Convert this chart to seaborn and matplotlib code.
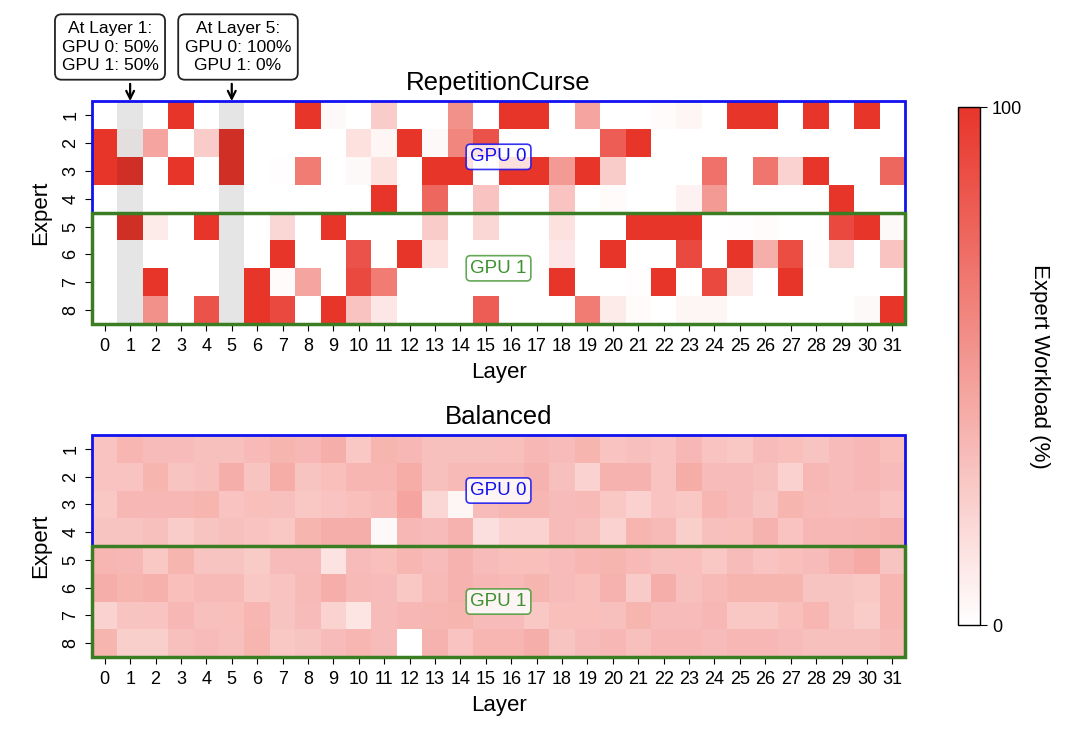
import numpy as np
import pandas as pd
import matplotlib
matplotlib.use("Agg")
import matplotlib.pyplot as plt
import seaborn as sns
from matplotlib.colors import LinearSegmentedColormap
from matplotlib.patches import Rectangle

plt.rcParams["font.family"] = ["Liberation Sans", "DejaVu Sans"]

# --- data: expert workload (%) per layer ---
layers = list(range(32))
experts = [1, 2, 3, 4, 5, 6, 7, 8]

# RepetitionCurse
rep_e1 = [0, 0, 0, 100, 0, 0, 0, 0, 100, 3, 0, 25, 0, 0, 55, 0, 100, 100, 0, 45, 0, 0, 2, 5, 0, 100, 100, 0, 100, 0, 100, 0]
rep_e2 = [100, 3, 45, 0, 25, 100, 0, 0, 0, 0, 15, 5, 100, 3, 60, 85, 0, 0, 0, 0, 80, 100, 0, 0, 0, 0, 0, 0, 0, 0, 0, 0]
rep_e3 = [100, 100, 0, 100, 0, 100, 0, 1, 65, 0, 3, 15, 0, 100, 100, 0, 100, 100, 50, 100, 25, 0, 0, 0, 70, 0, 68, 22, 100, 0, 0, 75]
rep_e4 = [0, 0, 0, 0, 0, 0, 0, 0, 0, 0, 0, 100, 0, 75, 0, 30, 0, 0, 30, 0, 2, 0, 0, 7, 50, 0, 0, 0, 0, 100, 0, 0]
rep_e5 = [0, 100, 10, 0, 100, 0, 0, 20, 0, 100, 0, 0, 0, 25, 0, 20, 0, 0, 15, 0, 0, 100, 100, 100, 0, 1, 2, 0, 0, 90, 100, 3]
rep_e6 = [0, 0, 0, 0, 0, 0, 0, 100, 0, 0, 85, 0, 100, 15, 0, 0, 0, 0, 12, 0, 100, 0, 0, 90, 0, 100, 40, 88, 1, 20, 0, 30]
rep_e7 = [0, 0, 100, 0, 0, 0, 100, 2, 45, 0, 90, 65, 0, 0, 0, 0, 0, 0, 100, 0, 0, 1, 100, 0, 90, 10, 0, 100, 0, 0, 0, 0]
rep_e8 = [0, 0, 55, 0, 85, 0, 100, 90, 0, 100, 30, 12, 0, 0, 0, 80, 0, 0, 0, 65, 10, 2, 0, 5, 5, 0, 0, 0, 0, 0, 3, 100]

# Balanced
bal_e1 = [30, 36, 33, 33, 31, 31, 34, 37, 35, 40, 27, 37, 35, 31, 31, 31, 32, 35, 33, 37, 30, 31, 30, 35, 30, 28, 33, 32, 29, 33, 35, 32]
bal_e2 = [30, 30, 37, 29, 31, 40, 29, 41, 29, 32, 36, 36, 41, 31, 34, 34, 34, 38, 31, 22, 38, 38, 30, 41, 33, 33, 31, 23, 35, 33, 35, 33]
bal_e3 = [27, 35, 35, 35, 37, 30, 32, 31, 28, 30, 32, 34, 45, 20, 5, 33, 36, 36, 33, 34, 28, 23, 30, 28, 36, 33, 29, 37, 34, 33, 33, 30]
bal_e4 = [29, 29, 31, 25, 29, 31, 30, 27, 37, 40, 40, 3, 35, 33, 38, 16, 22, 22, 33, 31, 22, 37, 34, 24, 31, 32, 38, 30, 35, 35, 36, 38]
bal_e5 = [36, 35, 28, 37, 29, 29, 26, 33, 33, 14, 33, 32, 36, 33, 38, 33, 32, 32, 33, 36, 37, 34, 31, 32, 28, 33, 30, 32, 33, 38, 42, 29]
bal_e6 = [40, 37, 39, 32, 34, 34, 28, 30, 34, 40, 34, 33, 28, 34, 38, 35, 34, 37, 33, 32, 38, 26, 40, 31, 34, 37, 37, 37, 29, 29, 27, 36]
bal_e7 = [22, 29, 30, 35, 31, 32, 36, 29, 33, 22, 13, 33, 35, 36, 37, 33, 33, 28, 32, 32, 31, 37, 33, 33, 35, 27, 27, 32, 36, 29, 25, 36]
bal_e8 = [37, 24, 24, 31, 33, 31, 37, 27, 29, 33, 36, 33, 0, 38, 30, 36, 36, 40, 29, 33, 35, 31, 35, 35, 33, 35, 35, 33, 31, 31, 31, 34]

highlight_layers = [1, 5]
notes = ["At Layer 1:\nGPU 0: 50%\nGPU 1: 50%",
         "At Layer 5:\nGPU 0: 100%\nGPU 1: 0%"]

rep_df = pd.DataFrame([rep_e1, rep_e2, rep_e3, rep_e4, rep_e5, rep_e6, rep_e7, rep_e8],
                      index=experts, columns=layers)
bal_df = pd.DataFrame([bal_e1, bal_e2, bal_e3, bal_e4, bal_e5, bal_e6, bal_e7, bal_e8],
                      index=experts, columns=layers)

cmap = LinearSegmentedColormap.from_list("wr", ["#ffffff", "#e8352a"])
BLUE = "#1010f0"
GREEN = "#3a7d22"

fig = plt.figure(figsize=(10.8, 7.43), dpi=100)
ax_top = fig.add_axes([0.0852, 0.5639, 0.7528, 0.300])
ax_bot = fig.add_axes([0.0852, 0.1157, 0.7528, 0.2988])
cax = fig.add_axes([0.887, 0.1588, 0.0204, 0.697])


def draw_panel(ax, df, title, with_cbar):
    sns.heatmap(df, ax=ax, cmap=cmap, vmin=0, vmax=100,
                cbar=with_cbar, cbar_ax=cax if with_cbar else None)
    ax.set_title(title, fontsize=18.5, pad=8)
    ax.set_xlabel("Layer", fontsize=16, labelpad=5)
    ax.set_ylabel("Expert", fontsize=16, labelpad=8)
    ax.tick_params(axis="x", labelsize=13, rotation=0, length=5, pad=5)
    ax.tick_params(axis="y", labelsize=13, rotation=90, length=5, pad=4)
    for lab in ax.get_yticklabels():
        lab.set_va("center")
    # GPU groups
    ax.add_patch(Rectangle((0, 0), 32, 4, fill=False, edgecolor=BLUE, lw=2, clip_on=False, zorder=5))
    ax.add_patch(Rectangle((0, 4), 32, 4, fill=False, edgecolor=GREEN, lw=2.5, clip_on=False, zorder=6))
    ax.text(16, 2, "GPU 0", color=BLUE, fontsize=13.5, ha="center", va="center", zorder=7,
            bbox=dict(boxstyle="round,pad=0.22", fc="white", ec=BLUE, alpha=0.85, lw=1.2))
    ax.text(16, 6, "GPU 1", color="#3d9130", fontsize=13.5, ha="center", va="center", zorder=7,
            bbox=dict(boxstyle="round,pad=0.22", fc="white", ec="#4a9a3a", alpha=0.85, lw=1.2))


draw_panel(ax_top, rep_df, "RepetitionCurse", True)
draw_panel(ax_bot, bal_df, "Balanced", False)

# shade the highlighted layers
for layer in highlight_layers:
    ax_top.axvspan(layer, layer + 1, color="black", alpha=0.1, lw=0, zorder=3)

# callout boxes with arrows
note_x = [110 / 1080, 238 / 1080]
for layer, txt, nx in zip(highlight_layers, notes, note_x):
    fig.text(nx, 1 - 47 / 743, txt, ha="center", va="center", fontsize=12.5, linespacing=1.3,
             bbox=dict(boxstyle="round,pad=0.38", fc="white", ec="#222222", lw=1.3))
    ax_top.annotate("", xy=(layer + 0.5, 0.0), xytext=(layer + 0.5, -0.62),
                    annotation_clip=False,
                    arrowprops=dict(arrowstyle="->", color="black", lw=1.6, mutation_scale=14,
                                    shrinkA=0, shrinkB=0))

cbar = ax_top.collections[0].colorbar
cbar.set_ticks([0, 100])
cbar.ax.tick_params(labelsize=13, length=5)
cbar.outline.set_edgecolor("black")
cbar.outline.set_linewidth(1)
cbar.set_label("Expert Workload (%)", fontsize=16, rotation=270, labelpad=20)

fig.savefig("out.png", dpi=100)
